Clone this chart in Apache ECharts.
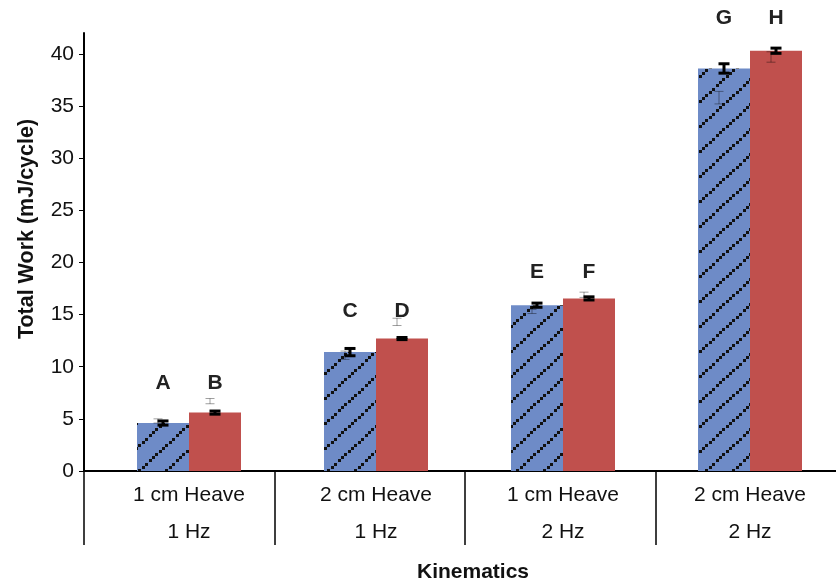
<!DOCTYPE html>
<html>
<head>
<meta charset="utf-8">
<script src="https://cdn.jsdelivr.net/npm/echarts@6/dist/echarts.min.js"></script>
<style>
  html, body { margin: 0; padding: 0; background: #fff; overflow: hidden; }
  /* the plot frame runs past the right edge of the page */
  #chart { width: 860px; height: 585px; }
</style>
</head>
<body>
<div id="chart"></div>
<script>
// Kinematic conditions (two label rows per group)
const categories = ['1 cm Heave\n1 Hz', '2 cm Heave\n1 Hz', '1 cm Heave\n2 Hz', '2 cm Heave\n2 Hz'];

// Total work per cycle (mJ/cycle)
const hatchedValues = [4.6, 11.4, 15.9, 38.6];
const hatchedErrors = [0.2, 0.35, 0.2, 0.45];
const solidValues   = [5.6, 12.7, 16.55, 40.3];
const solidErrors   = [0.15, 0.1, 0.15, 0.25];

// Secondary (light) error markers: centre value and half-range
const hatchedAltValues = [4.8, 11.1, 15.3, 35.8];
const hatchedAltErrors = [0.2, 0.4, 0.2, 0.6];
const solidAltValues   = [6.7, 14.3, 16.9, 39.7];
const solidAltErrors   = [0.25, 0.35, 0.25, 0.5];

// Significance letters and the height they sit at
const hatchedLetters = ['A', 'C', 'E', 'G'];
const solidLetters   = ['B', 'D', 'F', 'H'];
const letterLevels   = [8.45, 15.35, 19.1, 43.4];

const yTicks = [0, 5, 10, 15, 20, 25, 30, 35, 40];
const Y_MIN = 0, Y_MAX = 42;

const BAR_W = 52;
const FONT = 'Liberation Sans, Arial, Helvetica, sans-serif';

// Diagonal stepped-square hatch for the first series
function makeHatch() {
  const w = 27, h = 25;
  const c = document.createElement('canvas');
  c.width = w; c.height = h;
  const ctx = c.getContext('2d');
  ctx.fillStyle = '#6E8BC7';
  ctx.fillRect(0, 0, w, h);
  ctx.fillStyle = '#111';
  const n = 8;
  for (let i = 0; i < n; i++) {
    const x = Math.round(i * w / n);
    const y = Math.round(h - (i + 1) * h / n);
    ctx.fillRect(x, y, 3, 3);
  }
  return c;
}

function errItem(values, errors, side) {
  return values.map((v, i) => [i, v, errors[i], side]);
}

function errorRenderer(capHalf, lineW, color, shift) {
  return function (params, api) {
    const idx = api.value(0);
    const v = api.value(1);
    const e = api.value(2);
    const side = api.value(3);
    const top = api.coord([idx, v + e]);
    const bot = api.coord([idx, v - e]);
    const x = top[0] + side * BAR_W / 2 + shift;
    const style = { stroke: color, lineWidth: lineW };
    return {
      type: 'group',
      children: [
        { type: 'line', shape: { x1: x, y1: top[1], x2: x, y2: bot[1] }, style },
        { type: 'line', shape: { x1: x - capHalf, y1: top[1], x2: x + capHalf, y2: top[1] }, style },
        { type: 'line', shape: { x1: x - capHalf, y1: bot[1], x2: x + capHalf, y2: bot[1] }, style }
      ]
    };
  };
}

const letterData = hatchedLetters.map((t, i) => [i, letterLevels[i], -1])
  .concat(solidLetters.map((t, i) => [i, letterLevels[i], 1]));
const letterText = hatchedLetters.concat(solidLetters);

function letterRenderer(params, api) {
  const idx = api.value(0);
  const lvl = api.value(1);
  const side = api.value(2);
  const p = api.coord([idx, lvl]);
  return {
    type: 'text',
    x: p[0] + side * BAR_W / 2,
    y: p[1],
    style: {
      text: letterText[params.dataIndex],
      font: 'bold 21px ' + FONT,
      fill: '#222',
      textAlign: 'center',
      textVerticalAlign: 'middle'
    }
  };
}

const chart = echarts.init(document.getElementById('chart'), null, { renderer: 'canvas' });

const option = {
  animation: false,
  backgroundColor: '#fff',
  grid: [
    // frame: axes and group dividers
    { left: 84, width: 762, top: 33, bottom: 114, containLabel: false },
    // bars, error bars, letters and category labels
    { left: 95.5, width: 748, top: 33, bottom: 114, containLabel: false }
  ],
  xAxis: [
    {
      gridIndex: 0,
      type: 'category',
      data: categories,
      axisLine: { lineStyle: { color: '#000', width: 2 } },
      axisTick: { show: true, length: 74, lineStyle: { color: '#000', width: 1.5 } },
      axisLabel: { show: false },
      splitLine: { show: false }
    },
    {
      gridIndex: 1,
      type: 'category',
      data: categories,
      axisLine: { show: false },
      axisTick: { show: false },
      axisLabel: {
        color: '#111', fontSize: 21, fontFamily: FONT, lineHeight: 37, margin: 6, interval: 0
      },
      splitLine: { show: false }
    }
  ],
  yAxis: [
    {
      gridIndex: 0,
      type: 'value',
      min: Y_MIN, max: Y_MAX, interval: 5,
      axisLine: { show: true, lineStyle: { color: '#000', width: 2 } },
      axisTick: { show: true, length: 5, customValues: yTicks, lineStyle: { color: '#000', width: 1 } },
      axisLabel: { color: '#111', fontSize: 21, fontFamily: FONT, margin: 10, customValues: yTicks },
      splitLine: { show: false }
    },
    {
      gridIndex: 1,
      type: 'value',
      min: Y_MIN, max: Y_MAX, interval: 5,
      show: false,
      splitLine: { show: false }
    }
  ],
  graphic: [
    {
      type: 'text', x: 27, y: 229, rotation: Math.PI / 2,
      style: {
        text: 'Total Work (mJ/cycle)', font: 'bold 21.5px ' + FONT, fill: '#111',
        textAlign: 'center', textVerticalAlign: 'middle'
      }
    },
    {
      type: 'text', x: 473, y: 572,
      style: {
        text: 'Kinematics', font: 'bold 21px ' + FONT, fill: '#111',
        textAlign: 'center', textVerticalAlign: 'middle'
      }
    }
  ],
  series: [
    {
      type: 'bar', xAxisIndex: 1, yAxisIndex: 1,
      data: hatchedValues, barWidth: BAR_W, barGap: '0%',
      itemStyle: { color: { image: makeHatch(), repeat: 'repeat' } }
    },
    {
      type: 'bar', xAxisIndex: 1, yAxisIndex: 1,
      data: solidValues, barWidth: BAR_W, barGap: '0%',
      itemStyle: { color: '#C0504D' }
    },
    {
      type: 'custom', xAxisIndex: 1, yAxisIndex: 1,
      renderItem: errorRenderer(4.5, 1, 'rgba(0,0,0,0.38)', -5), clip: false, z: 3,
      data: errItem(hatchedAltValues, hatchedAltErrors, -1).concat(errItem(solidAltValues, solidAltErrors, 1))
    },
    {
      type: 'custom', xAxisIndex: 1, yAxisIndex: 1,
      renderItem: errorRenderer(5.5, 3, '#000', 0), clip: false, z: 4,
      data: errItem(hatchedValues, hatchedErrors, -1).concat(errItem(solidValues, solidErrors, 1))
    },
    {
      type: 'custom', xAxisIndex: 1, yAxisIndex: 1,
      renderItem: letterRenderer, clip: false, z: 5,
      data: letterData
    }
  ]
};

chart.setOption(option);
</script>
</body>
</html>
